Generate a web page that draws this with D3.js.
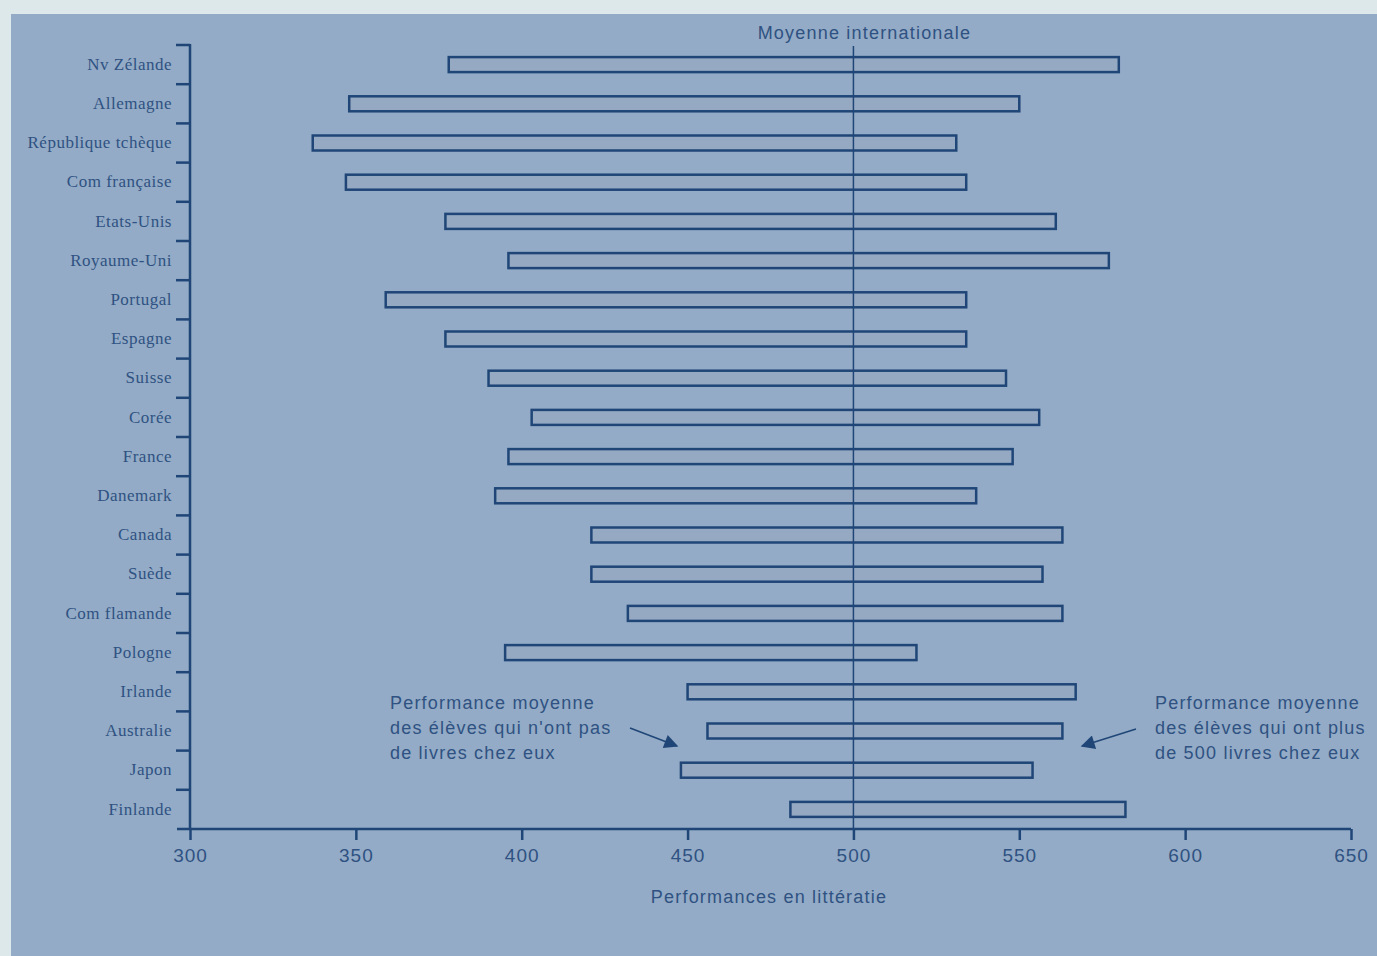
<!DOCTYPE html>
<html>
<head>
<meta charset="utf-8">
<script src="https://cdn.jsdelivr.net/npm/d3@7"></script>
<style>
  body { margin: 0; background: #dce8ea; }
  svg { display: block; }
</style>
</head>
<body>
<div id="chart"></div>
<script>
// countries, top to bottom
const countries = ["Nv Zélande", "Allemagne", "République tchèque", "Com française", "Etats-Unis",
  "Royaume-Uni", "Portugal", "Espagne", "Suisse", "Corée", "France", "Danemark", "Canada",
  "Suède", "Com flamande", "Pologne", "Irlande", "Australie", "Japon", "Finlande"];

// score of pupils with no books at home
const noBooks = [378, 348, 337, 347, 377, 396, 359, 377, 390, 403, 396, 392, 421, 421, 432, 395, 450, 456, 448, 481];
// score of pupils with more than 500 books at home
const manyBooks = [580, 550, 531, 534, 561, 577, 534, 534, 546, 556, 548, 537, 563, 557, 563, 519, 567, 563, 554, 582];

const xTicks = [300, 350, 400, 450, 500, 550, 600, 650];
const intlMean = 500;

const width = 1377, height = 956;
const ink = "#1f4677";
const textCol = "#2f5282";
const sans = "Liberation Sans, Arial, sans-serif";

const svg = d3.select("#chart").append("svg")
  .attr("width", width)
  .attr("height", height);

// blue panel
svg.append("rect")
  .attr("x", 11).attr("y", 14)
  .attr("width", width - 11).attr("height", height - 14)
  .attr("fill", "#93abc6");

// scales
const x = d3.scaleLinear().domain([300, 650]).range([190, 1351]);
const y = d3.scaleBand().domain(countries).range([45, 829]).padding(0);

// x axis
const xAxis = svg.append("g")
  .attr("transform", "translate(0,829)")
  .call(d3.axisBottom(x).tickValues(xTicks).tickSize(11).tickSizeOuter(0).tickPadding(9));
xAxis.select(".domain").remove();
xAxis.append("line")
  .attr("x1", 177).attr("x2", x(650))
  .attr("stroke", ink).attr("stroke-width", 2.5);
xAxis.selectAll(".tick line").attr("stroke", ink).attr("stroke-width", 2.5);
xAxis.selectAll(".tick text")
  .attr("fill", textCol)
  .attr("font-family", sans)
  .attr("font-size", 19)
  .attr("letter-spacing", 1);

// y axis: ticks sit at band edges
svg.append("line")
  .attr("x1", 190).attr("x2", 190)
  .attr("y1", 44).attr("y2", 829)
  .attr("stroke", ink).attr("stroke-width", 2.5);

svg.selectAll(".ytick")
  .data(countries)
  .enter().append("line")
  .attr("class", "ytick")
  .attr("x1", 176).attr("x2", 190)
  .attr("y1", d => y(d)).attr("y2", d => y(d))
  .attr("stroke", ink).attr("stroke-width", 2.5);

svg.selectAll(".ylabel")
  .data(countries)
  .enter().append("text")
  .attr("class", "ylabel")
  .attr("x", 172)
  .attr("y", d => y(d) + y.bandwidth() / 2)
  .attr("dy", "0.3em")
  .attr("text-anchor", "end")
  .attr("fill", textCol)
  .attr("font-family", "Liberation Serif, Times New Roman, serif")
  .attr("font-size", 17)
  .attr("letter-spacing", 0.5)
  .text(d => d);

// bars
const barH = 15;
svg.selectAll(".bar")
  .data(countries)
  .enter().append("rect")
  .attr("class", "bar")
  .attr("x", (d, i) => x(noBooks[i]))
  .attr("y", d => y(d) + y.bandwidth() / 2 - barH / 2)
  .attr("width", (d, i) => x(manyBooks[i]) - x(noBooks[i]))
  .attr("height", barH)
  .attr("fill", "#96a9c3")
  .attr("stroke", ink)
  .attr("stroke-width", 2.5);

// international mean line
svg.append("line")
  .attr("x1", x(intlMean)).attr("x2", x(intlMean))
  .attr("y1", 46).attr("y2", 829)
  .attr("stroke", ink).attr("stroke-width", 1.5);

svg.append("text")
  .attr("x", x(intlMean) + 11).attr("y", 39)
  .attr("text-anchor", "middle")
  .attr("fill", textCol)
  .attr("font-family", sans)
  .attr("font-size", 18)
  .attr("letter-spacing", 1.2)
  .text("Moyenne internationale");

// axis title
svg.append("text")
  .attr("x", 769).attr("y", 903)
  .attr("text-anchor", "middle")
  .attr("fill", textCol)
  .attr("font-family", sans)
  .attr("font-size", 18)
  .attr("letter-spacing", 1.2)
  .text("Performances en littératie");

// annotations
const noteLeft = ["Performance moyenne", "des élèves qui n'ont pas", "de livres chez eux"];
const noteRight = ["Performance moyenne", "des élèves qui ont plus", "de 500 livres chez eux"];

function note(lines, x0) {
  svg.append("g").selectAll("text")
    .data(lines)
    .enter().append("text")
    .attr("x", x0)
    .attr("y", (d, i) => 709 + i * 25)
    .attr("fill", textCol)
    .attr("font-family", sans)
    .attr("font-size", 18)
    .attr("letter-spacing", 1.2)
    .text(d => d);
}
note(noteLeft, 390);
note(noteRight, 1155);

svg.append("defs").append("marker")
  .attr("id", "head")
  .attr("viewBox", "0 0 10 10")
  .attr("refX", 9).attr("refY", 5)
  .attr("markerWidth", 18).attr("markerHeight", 14)
  .attr("markerUnits", "userSpaceOnUse")
  .attr("orient", "auto")
  .append("path")
  .attr("d", "M0,0L10,5L0,10Z")
  .attr("fill", ink);

// arrows
svg.append("line")
  .attr("x1", 630).attr("y1", 728)
  .attr("x2", 677).attr("y2", 746)
  .attr("stroke", ink).attr("stroke-width", 1.5)
  .attr("marker-end", "url(#head)");

svg.append("line")
  .attr("x1", 1136).attr("y1", 729)
  .attr("x2", 1082).attr("y2", 746)
  .attr("stroke", ink).attr("stroke-width", 1.5)
  .attr("marker-end", "url(#head)");
</script>
</body>
</html>
